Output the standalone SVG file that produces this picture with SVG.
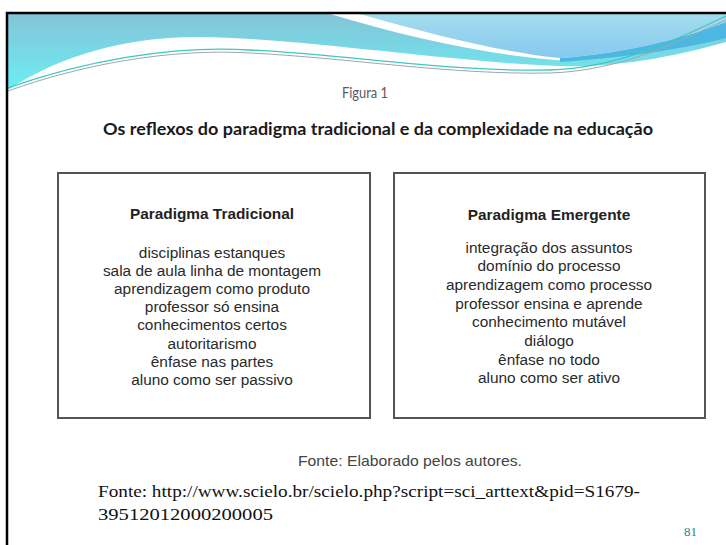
<svg xmlns="http://www.w3.org/2000/svg" width="726" height="545" viewBox="0 0 726 545">
<defs>
<linearGradient id="gCyan" x1="0" y1="0" x2="0" y2="1">
<stop offset="0" stop-color="#84c4d8"/>
<stop offset="1" stop-color="#6beef3"/>
</linearGradient>
<linearGradient id="gBlue" x1="0" y1="0" x2="0" y2="1">
<stop offset="0" stop-color="#a3dced"/>
<stop offset="1" stop-color="#86c9ef"/>
</linearGradient>
<clipPath id="slide"><rect x="8" y="14" width="718" height="531"/></clipPath>
</defs>
<style>
.box{fill:#fff;stroke:#555;stroke-width:2}
.hd{font-family:"Liberation Sans",Arial,sans-serif;font-size:15.4px;font-weight:bold;fill:#222;text-anchor:middle}
.it{font-family:"Liberation Sans",Arial,sans-serif;font-size:15.4px;fill:#2a2a2a;text-anchor:middle}
.cal{font-family:Lato,"Open Sans",sans-serif}
.ser{font-family:"Liberation Serif","Times New Roman",serif;fill:#111}
</style>
<rect width="726" height="545" fill="#fff"/>
<g id="waves" clip-path="url(#slide)">
<path d="M8,14 H726 V42 C680,55 620,68 560,66 C450,62 300,38 200,37 C130,36 60,55 8,90 Z" fill="url(#gCyan)"/>
<path d="M330,14 C410,38 490,56 570,61 L726,32 V14 Z" fill="#fff"/>
<path d="M360,14 C430,34 500,52 560,58 C620,54 680,40 726,22 V14 Z" fill="url(#gBlue)"/>
<path d="M560,58 C620,54 680,40 726,22 V38 C680,50 620,58 560,62 Z" fill="#4cb8e2"/>
<path d="M8,88 C80,62 170,45 250,50 C350,55 450,72 550,70 C620,68 680,38 726,16" fill="none" stroke="#3ec9bd" stroke-width="1.3"/>
<path d="M8,91 C80,65 170,48 250,53 C350,58 450,75 550,73 C620,71 680,41 726,20" fill="none" stroke="#9aa8b0" stroke-width="1"/>
</g>
<g id="border" fill="none" stroke="#000" stroke-width="2.5">
<path d="M7,545 V13 H726"/>
</g>
<text class="cal" x="365" y="98" font-size="14.5" fill="#595959" text-anchor="middle" textLength="46" lengthAdjust="spacingAndGlyphs">Figura 1</text>
<text class="cal" x="103" y="135" font-size="17.5" font-weight="bold" fill="#1a1a1a" textLength="550" lengthAdjust="spacingAndGlyphs">Os reflexos do paradigma tradicional e da complexidade na educação</text>
<g id="left-box">
<rect class="box" x="58" y="173" width="312" height="245"/>
<text class="hd" x="212" y="219">Paradigma Tradicional</text>
<text class="it" x="212" y="258">disciplinas estanques</text>
<text class="it" x="212" y="276.1">sala de aula linha de montagem</text>
<text class="it" x="212" y="294.2">aprendizagem como produto</text>
<text class="it" x="212" y="312.3">professor só ensina</text>
<text class="it" x="212" y="330.4">conhecimentos certos</text>
<text class="it" x="212" y="348.5">autoritarismo</text>
<text class="it" x="212" y="366.6">ênfase nas partes</text>
<text class="it" x="212" y="384.7">aluno como ser passivo</text>
</g>
<g id="right-box">
<rect class="box" x="394" y="173" width="311" height="245"/>
<text class="hd" x="549" y="220">Paradigma Emergente</text>
<text class="it" x="549" y="252.5">integração dos assuntos</text>
<text class="it" x="549" y="271.2">domínio do processo</text>
<text class="it" x="549" y="289.9">aprendizagem como processo</text>
<text class="it" x="549" y="308.6">professor ensina e aprende</text>
<text class="it" x="549" y="327.3">conhecimento mutável</text>
<text class="it" x="549" y="346">diálogo</text>
<text class="it" x="549" y="364.7">ênfase no todo</text>
<text class="it" x="549" y="383.4">aluno como ser ativo</text>
</g>
<text x="410" y="466" font-family="'Liberation Sans',Arial,sans-serif" font-size="15" fill="#444" text-anchor="middle" textLength="224" lengthAdjust="spacingAndGlyphs">Fonte: Elaborado pelos autores.</text>
<text class="ser" x="98" y="497" font-size="17" textLength="542" lengthAdjust="spacingAndGlyphs">Fonte: http://www.scielo.br/scielo.php?script=sci_arttext&amp;pid=S1679-</text>
<text class="ser" x="98" y="520" font-size="17" textLength="175" lengthAdjust="spacingAndGlyphs">39512012000200005</text>
<text class="ser" x="684" y="536" font-size="13" style="fill:#2f7f9f">81</text>
</svg>
